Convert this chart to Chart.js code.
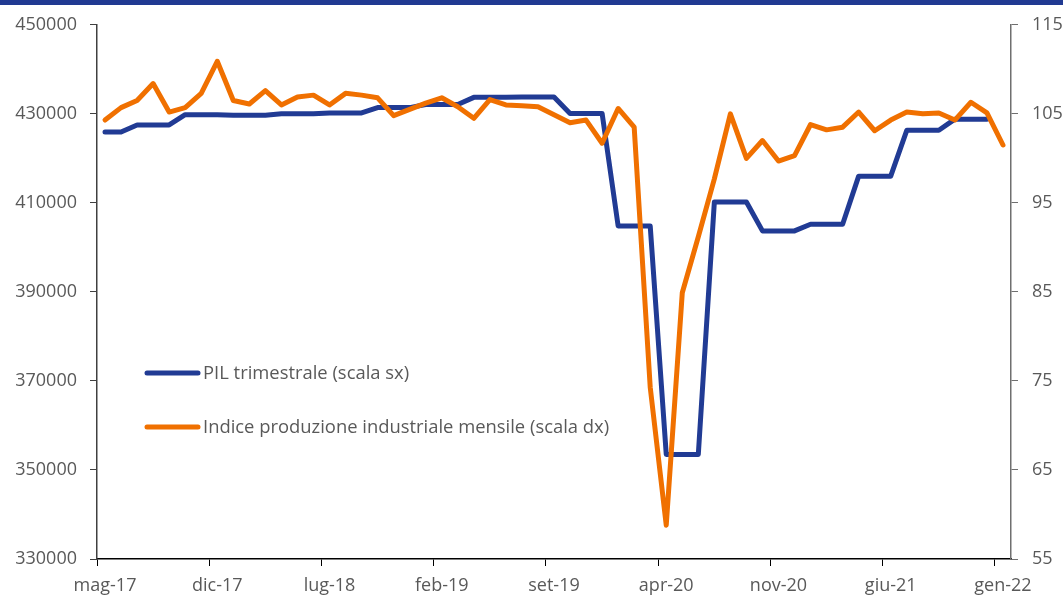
<!DOCTYPE html>
<html>
<head>
<meta charset="utf-8">
<script src="https://cdn.jsdelivr.net/npm/chart.js@4"></script>
<style>
  body { margin: 0; background: #fff; }
</style>
</head>
<body>
<canvas id="myChart" width="1063" height="598"></canvas>
<script>
//-------------------------DATA-----------------------------------------------------

var months = ['mag-17', 'giu-17', 'lug-17', 'ago-17', 'set-17', 'ott-17', 'nov-17', 'dic-17',
    'gen-18', 'feb-18', 'mar-18', 'apr-18', 'mag-18', 'giu-18', 'lug-18', 'ago-18', 'set-18', 'ott-18', 'nov-18', 'dic-18',
    'gen-19', 'feb-19', 'mar-19', 'apr-19', 'mag-19', 'giu-19', 'lug-19', 'ago-19', 'set-19', 'ott-19', 'nov-19', 'dic-19',
    'gen-20', 'feb-20', 'mar-20', 'apr-20', 'mag-20', 'giu-20', 'lug-20', 'ago-20', 'set-20', 'ott-20', 'nov-20', 'dic-20',
    'gen-21', 'feb-21', 'mar-21', 'apr-21', 'mag-21', 'giu-21', 'lug-21', 'ago-21', 'set-21', 'ott-21', 'nov-21', 'dic-21',
    'gen-22'];

// PIL trimestrale, ripetuto sui mesi del trimestre (scala sx)
var pil = [425900, 425900,
    427500, 427500, 427500,
    429800, 429800, 429800,
    429700, 429700, 429700,
    430000, 430000, 430000,
    430200, 430200, 430200,
    431400, 431400, 431400,
    432100, 432100, 432100,
    433700, 433700, 433700,
    433800, 433800, 433800,
    430100, 430100, 430100,
    404800, 404800, 404800,
    353500, 353500, 353500,
    410200, 410200, 410200,
    403700, 403700, 403700,
    405200, 405200, 405200,
    416000, 416000, 416000,
    426300, 426300, 426300,
    428800, 428800, 428800,
    null];

// indice produzione industriale mensile (scala dx)
var ipi = [104.3, 105.7, 106.5, 108.4, 105.2, 105.7, 107.3, 110.9,
    106.5, 106.1, 107.6, 106.0, 106.9, 107.1, 106.0, 107.3, 107.1, 106.8, 104.8, 105.5,
    106.2, 106.8, 105.8, 104.5, 106.6, 106.0, 105.9, 105.8, 104.9, 104.0, 104.3, 101.7,
    105.6, 103.5, 74.3, 58.8, 84.9, 91.2, 97.7, 105.0, 100.0, 102.0, 99.7, 100.3,
    103.8, 103.2, 103.5, 105.2, 103.1, 104.3, 105.2, 105.0, 105.1, 104.3, 106.3, 105.1,
    101.5];

var labelStep = 7;          // one label every 7 months
var leftTicks = [330000, 450000, 20000];   // min, max, step
var rightTicks = [55, 115, 10];

var blue = '#213b94';
var orange = '#f07000';
var textGrey = '#595959';

//-------------------------PLUGINS-----------------------------------------------------

var topBand = {
    id: 'topBand',
    beforeDraw(chart) {
        let ctx = chart.ctx;
        ctx.save();
        ctx.fillStyle = '#213a92';
        ctx.fillRect(0, 0, chart.width, 5);
        ctx.restore();
    }
};

var innerLegend = {
    id: 'innerLegend',
    afterDraw(chart) {
        let ctx = chart.ctx;
        let rows = [373, 427];
        ctx.save();
        chart.data.datasets.forEach(function (ds, i) {
            let y = rows[i];
            ctx.strokeStyle = ds.borderColor;
            ctx.lineWidth = 5;
            ctx.lineCap = 'round';
            ctx.beginPath();
            ctx.moveTo(147, y);
            ctx.lineTo(198, y);
            ctx.stroke();
            ctx.fillStyle = textGrey;
            ctx.font = '18.4px "Open Sans"';
            ctx.textBaseline = 'middle';
            ctx.textAlign = 'left';
            ctx.fillText(ds.label, 203, y + 1);
        });
        ctx.restore();
    }
};

//-------------------------CHART-----------------------------------------------------

var tickFont = { family: 'Open Sans', size: 18 };

var ctx = document.getElementById('myChart').getContext('2d');
var chart = new Chart(ctx, {
    type: 'line',
    data: {
        labels: months,
        datasets: [{
            label: 'PIL trimestrale (scala sx)',
            data: pil,
            yAxisID: 'y',
            borderColor: blue,
            borderWidth: 5,
            order: 1
        }, {
            label: 'Indice produzione industriale mensile (scala dx)',
            data: ipi,
            yAxisID: 'y1',
            borderColor: orange,
            borderWidth: 5,
            order: 0
        }]
    },
    plugins: [topBand, innerLegend],
    options: {
        responsive: false,
        animation: false,
        layout: { padding: { top: 23, left: 0, right: 0, bottom: 0 } },
        elements: {
            point: { radius: 0 },
            line: { tension: 0, borderJoinStyle: 'round', borderCapStyle: 'round' }
        },
        plugins: {
            legend: { display: false },
            tooltip: { enabled: false }
        },
        scales: {
            x: {
                offset: true,
                afterFit(s) { s.height = 39; },
                grid: {
                    offset: true,
                    drawOnChartArea: false,
                    tickLength: 7,
                    tickColor: c => (c.index % labelStep === 0 ? '#000' : 'rgba(0,0,0,0)')
                },
                border: { color: '#000', width: 1.5 },
                ticks: {
                    autoSkip: false,
                    maxRotation: 0,
                    padding: 9,
                    color: textGrey,
                    font: tickFont,
                    callback: (v, i) => (i % labelStep === 0 ? months[i] : '')
                }
            },
            y: {
                position: 'left',
                min: leftTicks[0],
                max: leftTicks[1],
                afterFit(s) { s.width = 97; },
                grid: { drawOnChartArea: false, tickLength: 7, tickColor: '#404040' },
                border: { color: '#404040', width: 1.5 },
                ticks: {
                    stepSize: leftTicks[2],
                    padding: 13,
                    color: textGrey,
                    font: tickFont,
                    callback: v => String(v)
                }
            },
            y1: {
                position: 'right',
                min: rightTicks[0],
                max: rightTicks[1],
                afterFit(s) { s.width = 52; },
                grid: { drawOnChartArea: false, tickLength: 7, tickColor: '#6f6f6f' },
                border: { color: '#6f6f6f', width: 1.5 },
                ticks: {
                    stepSize: rightTicks[2],
                    padding: 14,
                    color: textGrey,
                    font: tickFont,
                    callback: v => String(v)
                }
            }
        }
    }
});
</script>
</body>
</html>
